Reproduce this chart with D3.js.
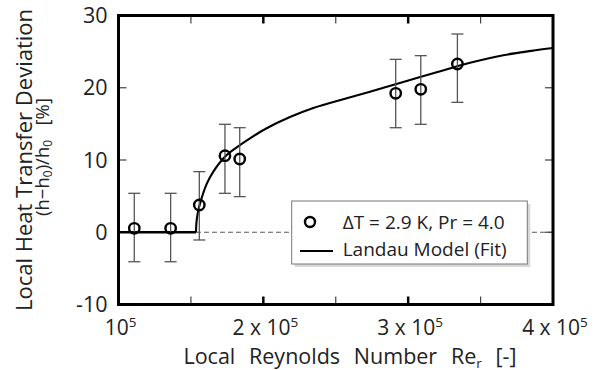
<!DOCTYPE html>
<html>
<head>
<meta charset="utf-8">
<script src="https://cdn.jsdelivr.net/npm/d3@7"></script>
<style>
  html, body { margin: 0; padding: 0; background: #fff; }
  svg { display: block; font-family: "Open Sans", sans-serif; }
</style>
</head>
<body>
<svg id="chart" width="598" height="370"></svg>
<script>
// ---- data ----
const reynolds   = [1.109e5, 1.360e5, 1.558e5, 1.735e5, 1.837e5, 2.914e5, 3.087e5, 3.340e5];
const deviation  = [0.55, 0.55, 3.77, 10.6, 10.14, 19.23, 19.78, 23.29];
const errLow     = [-4.08, -4.08, -1.07, 5.39, 4.93, 14.47, 14.94, 17.98];
const errHigh    = [5.39, 5.39, 8.39, 14.94, 14.47, 23.93, 24.44, 27.44];

const onsetRe = 1.535e5;
const flatRe  = [1.0e5, 1.535e5];
const flatDev = [0, 0];
const fitRe  = [1.535e5, 1.538e5, 1.545e5, 1.552e5, 1.563e5, 1.609e5, 1.655e5, 1.735e5, 1.816e5, 1.908e5,
                2.023e5, 2.184e5, 2.345e5, 2.576e5, 2.736e5, 2.966e5, 3.197e5, 3.427e5, 3.657e5, 3.85e5, 4.0e5];
const fitDev = [0, 1.3, 2.4, 3.1, 4.0, 6.7, 8.4, 10.45, 11.75, 13.0,
                14.4, 15.95, 17.2, 18.55, 19.45, 20.8, 22.15, 23.45, 24.5, 25.1, 25.5];

const xMajorTicks = [1e5, 2e5, 3e5, 4e5];
const xMinorTicks = [1.5e5, 2.5e5, 3.5e5];
const xTickBase   = ["10", "2 x 10", "3 x 10", "4 x 10"];
const xTickExp    = ["5", "5", "5", "5"];
const yTicks      = [-10, 0, 10, 20, 30];
const yInnerTicks = [0, 10, 20];

const legendLabels = ["\u0394T = 2.9 K, Pr = 4.0", "Landau Model (Fit)"];

// ---- layout ----
const W = 598, H = 370;
const margin = {left: 118.5, top: 15.5, right: 45, bottom: 65.5};
const svg = d3.select("#chart");

const x = d3.scaleLinear().domain([1e5, 4e5]).range([margin.left, W - margin.right]);
const y = d3.scaleLinear().domain([-10, 30]).range([H - margin.bottom, margin.top]);

const x0 = x.range()[0], x1 = x.range()[1];
const yTop = y.range()[1], yBot = y.range()[0];

// dashed zero line (from onset to right)
svg.append("line")
  .attr("x1", x(onsetRe)).attr("x2", x1)
  .attr("y1", y(0)).attr("y2", y(0))
  .attr("stroke", "#555").attr("stroke-width", 1)
  .attr("stroke-dasharray", "5,3");

// inner ticks
const tickLen = 8;
const tickG = svg.append("g");
xMajorTicks.slice(1, -1).forEach(v => {
  tickG.append("line").attr("x1", x(v)).attr("x2", x(v)).attr("y1", yBot).attr("y2", yBot - tickLen)
    .attr("stroke", "#000").attr("stroke-width", 2.5);
  tickG.append("line").attr("x1", x(v)).attr("x2", x(v)).attr("y1", yTop).attr("y2", yTop + tickLen)
    .attr("stroke", "#000").attr("stroke-width", 2.5);
});
xMinorTicks.forEach(v => {
  tickG.append("line").attr("x1", x(v)).attr("x2", x(v)).attr("y1", yBot).attr("y2", yBot - tickLen)
    .attr("stroke", "#444").attr("stroke-width", 1.2);
  tickG.append("line").attr("x1", x(v)).attr("x2", x(v)).attr("y1", yTop).attr("y2", yTop + tickLen)
    .attr("stroke", "#444").attr("stroke-width", 1.2);
});
yInnerTicks.forEach(v => {
  tickG.append("line").attr("x1", x0).attr("x2", x0 + tickLen).attr("y1", y(v)).attr("y2", y(v))
    .attr("stroke", "#444").attr("stroke-width", 1.2);
  tickG.append("line").attr("x1", x1).attr("x2", x1 - tickLen).attr("y1", y(v)).attr("y2", y(v))
    .attr("stroke", "#444").attr("stroke-width", 1.2);
});

// fit: flat part and rising part
const flatLine = d3.line().x((d, i) => x(flatRe[i])).y(d => y(d));
svg.append("path").datum(flatDev)
  .attr("d", flatLine).attr("fill", "none").attr("stroke", "#000").attr("stroke-width", 2.7);
const fitLine = d3.line().x((d, i) => x(fitRe[i])).y(d => y(d)).curve(d3.curveCatmullRom.alpha(0.5));
svg.append("path").datum(fitDev)
  .attr("d", fitLine).attr("fill", "none").attr("stroke", "#000").attr("stroke-width", 2.1);

// error bars
const capW = 6;
const eb = svg.append("g").attr("stroke", "#555").attr("stroke-width", 1.3);
reynolds.forEach((r, i) => {
  eb.append("line").attr("x1", x(r)).attr("x2", x(r)).attr("y1", y(errLow[i])).attr("y2", y(errHigh[i]));
  eb.append("line").attr("x1", x(r) - capW).attr("x2", x(r) + capW).attr("y1", y(errLow[i])).attr("y2", y(errLow[i]));
  eb.append("line").attr("x1", x(r) - capW).attr("x2", x(r) + capW).attr("y1", y(errHigh[i])).attr("y2", y(errHigh[i]));
});

// points
svg.append("g").selectAll("circle").data(deviation).join("circle")
  .attr("cx", (d, i) => x(reynolds[i])).attr("cy", d => y(d)).attr("r", 5.2)
  .attr("fill", "none").attr("stroke", "#000").attr("stroke-width", 2.4);

// frame
svg.append("rect").attr("x", x0).attr("y", yTop).attr("width", x1 - x0).attr("height", yBot - yTop)
  .attr("fill", "none").attr("stroke", "#000").attr("stroke-width", 3);

// y tick labels
svg.append("g").selectAll("text").data(yTicks).join("text")
  .attr("x", 107.5).attr("y", d => y(d)).attr("dy", "0.36em")
  .attr("text-anchor", "end").attr("font-size", 21.5).attr("fill", "#222")
  .text(d => d);

// x tick labels
const xt = svg.append("g").selectAll("text").data(xMajorTicks).join("text")
  .attr("x", d => x(d) + 2).attr("y", 335)
  .attr("text-anchor", "middle").attr("font-size", 21).attr("fill", "#222");
xt.append("tspan").text((d, i) => xTickBase[i]);
xt.append("tspan").attr("dy", -8.5).attr("font-size", 13.5).text((d, i) => xTickExp[i]);

// x title
const xtitle = svg.append("text").attr("x", 350).attr("y", 363.5).attr("text-anchor", "middle")
  .attr("font-size", 21.5).attr("fill", "#222").attr("word-spacing", 1.3).attr("xml:space", "preserve");
xtitle.append("tspan").text("Local  Reynolds  Number  Re");
xtitle.append("tspan").attr("font-size", 13.5).attr("dy", 4).text("r");
xtitle.append("tspan").attr("dy", -4).text("  [-]");

// y title
const yt = svg.append("g").attr("transform", "translate(0,160) rotate(-90)");
yt.append("text").attr("x", 0).attr("y", 31.5).attr("text-anchor", "middle")
  .attr("font-size", 22).attr("fill", "#222").text("Local Heat Transfer Deviation");
const yt2 = yt.append("text").attr("x", 3).attr("y", 48.8).attr("text-anchor", "middle")
  .attr("font-size", 18.5).attr("fill", "#222").attr("xml:space", "preserve");
yt2.append("tspan").text("(h\u2212h");
yt2.append("tspan").attr("font-size", 12).attr("dy", 3.5).text("0");
yt2.append("tspan").attr("dy", -3.5).text(")/h");
yt2.append("tspan").attr("font-size", 12).attr("dy", 3.5).text("0");
yt2.append("tspan").attr("dy", -3.5).text("   [%]");

// legend
const lg = svg.append("g");
const lx = 291.7, ly = 201, lw = 235.6, lh = 63;
lg.append("rect").attr("x", lx + 3).attr("y", ly + 3).attr("width", lw).attr("height", lh)
  .attr("fill", "#d8d8d8");
lg.append("rect").attr("x", lx).attr("y", ly).attr("width", lw).attr("height", lh)
  .attr("fill", "#fff").attr("stroke", "#777").attr("stroke-width", 1);
lg.append("circle").attr("cx", 310).attr("cy", 222).attr("r", 5)
  .attr("fill", "none").attr("stroke", "#000").attr("stroke-width", 2.4);
lg.append("line").attr("x1", 300).attr("x2", 333).attr("y1", 251).attr("y2", 251)
  .attr("stroke", "#000").attr("stroke-width", 2.2);
lg.selectAll("text.lt").data(legendLabels).join("text").attr("class", "lt")
  .attr("x", 342.7).attr("y", (d, i) => [229, 256][i])
  .attr("font-size", 19).attr("fill", "#222").text(d => d);
</script>
</body>
</html>
